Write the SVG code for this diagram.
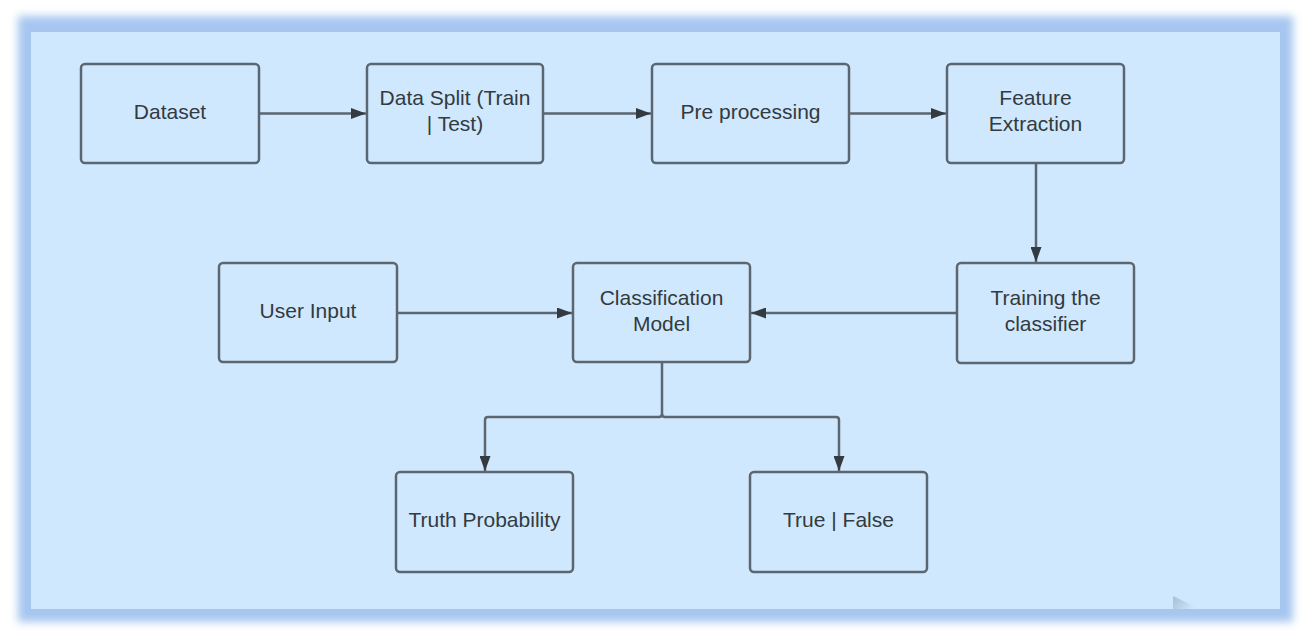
<svg xmlns="http://www.w3.org/2000/svg" width="1306" height="632" viewBox="0 0 1306 632">
<style>
.box{fill:#cfe8fd;stroke:#5b6670;stroke-width:2.5}
.lbl{font-family:"Liberation Sans",Arial,sans-serif;font-size:21px;fill:#333a40;text-anchor:middle}
.edge{fill:none;stroke:#5b6670;stroke-width:2.5}
</style>
<defs>
<filter id="glow" x="-5%" y="-5%" width="110%" height="110%"><feGaussianBlur stdDeviation="4"/></filter>
<linearGradient id="tri" x1="0" y1="0" x2="1" y2="0.4"><stop offset="0" stop-color="#a9bfd2"/><stop offset="1" stop-color="#cfe8fd"/></linearGradient>
<marker id="arr" viewBox="0 0 15 11" refX="15" refY="5.5" markerWidth="15" markerHeight="11" markerUnits="userSpaceOnUse" orient="auto"><path d="M0,0 L15,5.5 L0,11 Z" fill="#333a40"/></marker>
</defs>
<rect width="1306" height="632" fill="#ffffff"/>
<rect x="18" y="16" width="1275" height="606" fill="#a6c6f0" filter="url(#glow)"/>
<rect x="31" y="32" width="1249" height="577" fill="#cfe8fd"/>
<path d="M1173,596 L1173,609 L1200,609 Z" fill="url(#tri)"/>
<g id="connectors">
<path class="edge" d="M259,113.5 H366" marker-end="url(#arr)"/>
<path class="edge" d="M543,113.5 H651" marker-end="url(#arr)"/>
<path class="edge" d="M849,113.5 H946" marker-end="url(#arr)"/>
<path class="edge" d="M1036,163 V262" marker-end="url(#arr)"/>
<path class="edge" d="M957,313 H751" marker-end="url(#arr)"/>
<path class="edge" d="M397,313 H572" marker-end="url(#arr)"/>
<path class="edge" d="M662,362 V414 Q662,417 659,417 H488 Q485,417 485,420 V471" marker-end="url(#arr)"/>
<path class="edge" d="M662,414 Q662,417 665,417 H836 Q839,417 839,420 V471" marker-end="url(#arr)"/>
</g>
<g id="dataset"><rect class="box" x="81" y="64" width="178" height="99" rx="4"/><text class="lbl" x="170" y="118.5">Dataset</text></g>
<g id="split"><rect class="box" x="367" y="64" width="176" height="99" rx="4"/><text class="lbl" x="455" y="105">Data Split (Train</text><text class="lbl" x="455" y="131">| Test)</text></g>
<g id="preprocessing"><rect class="box" x="652" y="64" width="197" height="99" rx="4"/><text class="lbl" x="750.5" y="118.5">Pre processing</text></g>
<g id="feature"><rect class="box" x="947" y="64" width="177" height="99" rx="4"/><text class="lbl" x="1035.5" y="105">Feature</text><text class="lbl" x="1035.5" y="131">Extraction</text></g>
<g id="training"><rect class="box" x="957" y="263" width="177" height="100" rx="4"/><text class="lbl" x="1045.5" y="305">Training the</text><text class="lbl" x="1045.5" y="331">classifier</text></g>
<g id="classification"><rect class="box" x="573" y="263" width="177" height="99" rx="4"/><text class="lbl" x="661.5" y="305">Classification</text><text class="lbl" x="661.5" y="331">Model</text></g>
<g id="userinput"><rect class="box" x="219" y="263" width="178" height="99" rx="4"/><text class="lbl" x="308" y="317.5">User Input</text></g>
<g id="truth"><rect class="box" x="396" y="472" width="177" height="100" rx="4"/><text class="lbl" x="484.5" y="527">Truth Probability</text></g>
<g id="truefalse"><rect class="box" x="750" y="472" width="177" height="100" rx="4"/><text class="lbl" x="838.5" y="527">True | False</text></g>
</svg>
